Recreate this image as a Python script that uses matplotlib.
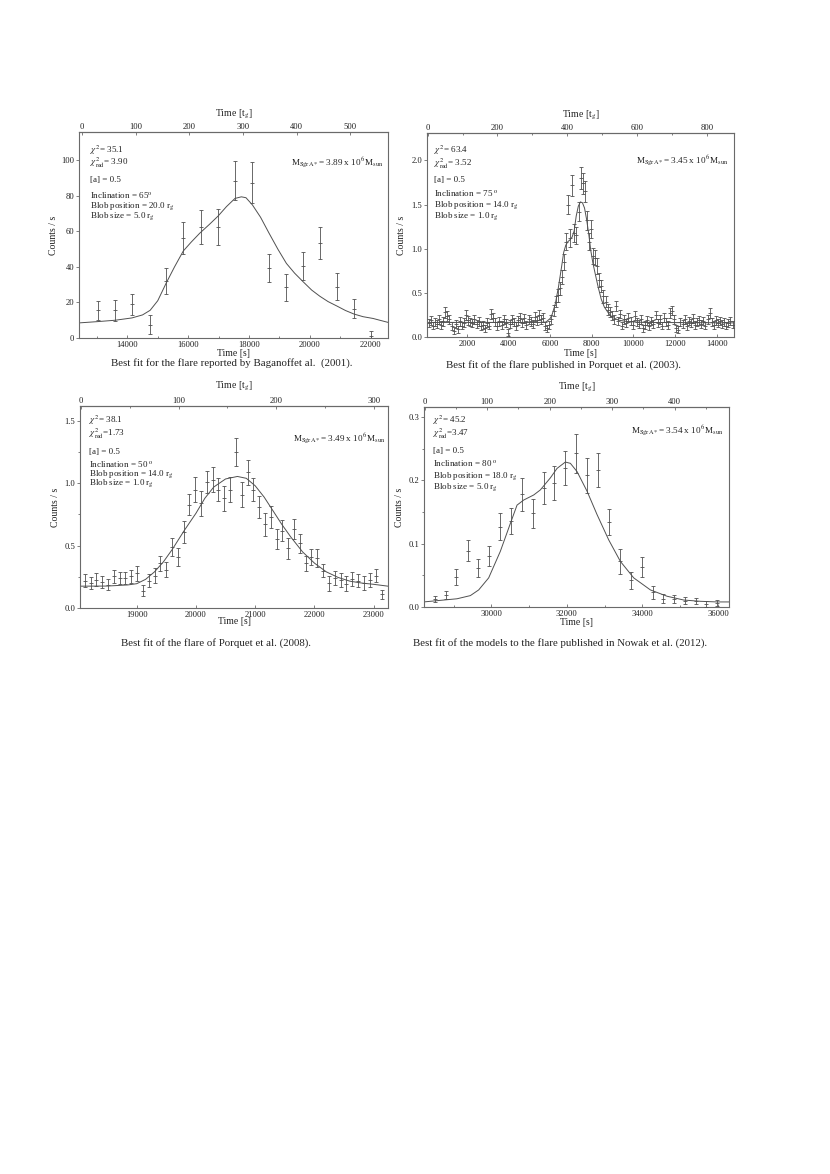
import matplotlib.pyplot as plt
from matplotlib.ticker import MultipleLocator, FormatStrFormatter

plt.rcParams['font.family'] = ['Liberation Serif', 'DejaVu Serif']
plt.rcParams['mathtext.fontset'] = 'stix'

INK = '#222222'
GREY = '#505050'
FRAME = '#6a6a6a'

# ---- Baganoff et al. (2001) ----
t_bag = [13040, 13605, 14150, 14745, 15282, 15841, 16422, 16981, 17540,
         18110, 18658, 19227, 19786, 20334, 20893, 21452, 22022]
rate_bag = [15.5, 15.5, 19.0, 7.5, 32.0, 56.5, 62.5, 62.5, 88.5,
            87.5, 39.5, 28.5, 40.5, 53.5, 29.0, 16.5, 1.0]
err_bag = [5.5, 5.7, 6.0, 5.5, 7.5, 9.0, 9.5, 10.0, 11.0,
           11.5, 8.0, 7.5, 8.0, 9.0, 7.5, 5.5, 3.0]
fit_t_bag = [12411, 13000, 13600, 14150, 14500, 14750, 15000, 15280, 15550,
             15840, 16100, 16380, 16700, 16980, 17260, 17540, 17750, 17900,
             18110, 18380, 18660, 18950, 19230, 19500, 19790, 20060, 20330,
             20600, 20890, 21170, 21450, 21750, 22080, 22300, 22570]
fit_bag = [8.5, 9.2, 10.0, 11.3, 13.0, 15.6, 21.0, 31.0, 40.0,
           49.0, 54.0, 59.0, 64.0, 68.6, 74.0, 78.6, 79.5, 79.0,
           75.0, 68.0, 59.0, 50.0, 42.0, 36.5, 31.5, 27.0, 23.5,
           20.5, 18.0, 15.5, 13.5, 12.0, 11.0, 10.0, 8.8]

# ---- Porquet et al. (2003) ----
t_por03 = [160, 260, 360, 460, 560, 660, 760, 860, 960, 1060,
           1160, 1260, 1360, 1460, 1560, 1660, 1760, 1860, 1960, 2060,
           2160, 2260, 2360, 2460, 2560, 2660, 2760, 2860, 2960, 3060,
           3160, 3260, 3360, 3460, 3560, 3660, 3760, 3860, 3960, 4060,
           4160, 4260, 4360, 4460, 4560, 4660, 4760, 4860, 4960, 5060,
           5160, 5260, 5360, 5460, 5560, 5660, 5760, 5860, 5960, 6060,
           6160, 6260, 6360, 6460, 6560, 6660, 6760, 6860, 6960, 7060,
           7160, 7260, 7360, 7460, 7560, 7660, 7760, 7860, 7960, 8060,
           8160, 8260, 8360, 8460, 8560, 8660, 8760, 8860, 8960, 9060,
           9160, 9260, 9360, 9460, 9560, 9660, 9760, 9860, 9960, 10060,
           10160, 10260, 10360, 10460, 10560, 10660, 10760, 10860, 10960, 11060,
           11160, 11260, 11360, 11460, 11560, 11660, 11760, 11860, 11960, 12060,
           12160, 12260, 12360, 12460, 12560, 12660, 12760, 12860, 12960, 13060,
           13160, 13260, 13360, 13460, 13560, 13660, 13760, 13860, 13960, 14060,
           14160, 14260, 14360, 14460, 14560, 14660, 14760]
rate_por03 = [0.16, 0.19, 0.13, 0.17, 0.15, 0.20, 0.14, 0.18, 0.28, 0.24,
              0.20, 0.12, 0.07, 0.15, 0.09, 0.18, 0.13, 0.16, 0.25, 0.19,
              0.17, 0.16, 0.20, 0.15, 0.18, 0.12, 0.14, 0.10, 0.16, 0.13,
              0.26, 0.22, 0.17, 0.12, 0.18, 0.14, 0.20, 0.16, 0.05, 0.15,
              0.20, 0.17, 0.12, 0.19, 0.22, 0.16, 0.21, 0.14, 0.20, 0.18,
              0.15, 0.23, 0.19, 0.25, 0.20, 0.22, 0.12, 0.10, 0.14, 0.20,
              0.30, 0.40, 0.47, 0.55, 0.68, 0.85, 1.08, 1.50, 1.12, 1.72,
              1.18, 1.15, 1.42, 1.80, 1.74, 1.65, 1.32, 1.08, 1.22, 0.92,
              0.90, 0.80, 0.65, 0.58, 0.46, 0.40, 0.31, 0.28, 0.24, 0.20,
              0.35, 0.18, 0.26, 0.13, 0.20, 0.16, 0.22, 0.18, 0.14, 0.24,
              0.17, 0.15, 0.20, 0.10, 0.14, 0.19, 0.12, 0.18, 0.15, 0.25,
              0.16, 0.20, 0.13, 0.22, 0.17, 0.14, 0.27, 0.30, 0.20, 0.10,
              0.08, 0.17, 0.15, 0.20, 0.12, 0.18, 0.16, 0.21, 0.14, 0.17,
              0.19, 0.15, 0.18, 0.13, 0.20, 0.27, 0.17, 0.14, 0.19, 0.16,
              0.18, 0.15, 0.17, 0.13, 0.16, 0.18, 0.14]
err_por03 = [0.045, 0.05, 0.045, 0.05, 0.045, 0.05, 0.045, 0.05, 0.06, 0.055,
             0.05, 0.045, 0.04, 0.045, 0.04, 0.05, 0.045, 0.05, 0.055, 0.05,
             0.05, 0.045, 0.05, 0.045, 0.05, 0.045, 0.045, 0.04, 0.05, 0.045,
             0.055, 0.05, 0.05, 0.045, 0.05, 0.045, 0.05, 0.045, 0.04, 0.045,
             0.05, 0.05, 0.045, 0.05, 0.05, 0.045, 0.05, 0.045, 0.05, 0.05,
             0.045, 0.05, 0.05, 0.055, 0.05, 0.05, 0.045, 0.04, 0.045, 0.05,
             0.06, 0.065, 0.07, 0.075, 0.08, 0.09, 0.1, 0.11, 0.1, 0.12,
             0.1, 0.1, 0.11, 0.12, 0.12, 0.12, 0.11, 0.1, 0.1, 0.09,
             0.09, 0.09, 0.08, 0.07, 0.07, 0.06, 0.06, 0.055, 0.05, 0.05,
             0.055, 0.045, 0.05, 0.04, 0.05, 0.045, 0.05, 0.045, 0.045, 0.05,
             0.045, 0.045, 0.05, 0.04, 0.045, 0.05, 0.04, 0.045, 0.045, 0.05,
             0.045, 0.05, 0.045, 0.05, 0.045, 0.045, 0.055, 0.055, 0.05, 0.04,
             0.04, 0.045, 0.045, 0.05, 0.04, 0.045, 0.045, 0.05, 0.045, 0.045,
             0.05, 0.045, 0.045, 0.04, 0.05, 0.055, 0.045, 0.045, 0.05, 0.045,
             0.045, 0.045, 0.045, 0.04, 0.045, 0.045, 0.04]
fit_t_por03 = [80, 5500, 5800, 6000, 6100, 6250, 6400, 6550, 6650, 6750,
               6850, 6950, 7050, 7150, 7250, 7350, 7450, 7550, 7650, 7750,
               7850, 7950, 8050, 8150, 8300, 8450, 8600, 8800, 9000, 9300,
               9700, 10500, 14830]
fit_por03 = [0.165, 0.165, 0.17, 0.21, 0.26, 0.38, 0.57, 0.80, 0.96, 1.04,
             1.08, 1.10, 1.13, 1.20, 1.37, 1.48, 1.53, 1.52, 1.46, 1.33,
             1.17, 0.98, 0.84, 0.73, 0.57, 0.43, 0.34, 0.27, 0.22, 0.19,
             0.175, 0.165, 0.16]

# ---- Porquet et al. (2008) ----
t_por08 = [18120, 18220, 18310, 18410, 18510, 18610, 18710, 18810, 18910, 19000,
           19100, 19200, 19300, 19400, 19500, 19590, 19690, 19790, 19890, 19990,
           20090, 20180, 20280, 20380, 20480, 20580, 20680, 20770, 20870, 20970,
           21070, 21170, 21270, 21360, 21460, 21560, 21660, 21760, 21860, 21950,
           22050, 22150, 22250, 22350, 22450, 22540, 22640, 22740, 22840, 22940,
           23040, 23140]
rate_por08 = [0.22, 0.20, 0.227, 0.21, 0.187, 0.253, 0.24, 0.24, 0.253, 0.28,
              0.14, 0.22, 0.26, 0.36, 0.307, 0.49, 0.41, 0.61, 0.83, 0.95,
              0.84, 1.01, 1.03, 0.95, 0.88, 0.95, 1.25, 0.91, 1.09, 0.95,
              0.81, 0.67, 0.73, 0.55, 0.62, 0.48, 0.63, 0.52, 0.36, 0.41,
              0.40, 0.30, 0.20, 0.24, 0.227, 0.195, 0.232, 0.22, 0.20, 0.227,
              0.26, 0.11]
err_por08 = [0.05, 0.05, 0.05, 0.05, 0.045, 0.05, 0.05, 0.05, 0.05, 0.06,
             0.045, 0.05, 0.06, 0.06, 0.06, 0.07, 0.07, 0.085, 0.085, 0.1,
             0.1, 0.09, 0.1, 0.09, 0.1, 0.1, 0.11, 0.1, 0.1, 0.095,
             0.09, 0.09, 0.085, 0.08, 0.085, 0.085, 0.08, 0.075, 0.06, 0.065,
             0.07, 0.055, 0.06, 0.055, 0.055, 0.06, 0.055, 0.05, 0.055, 0.055,
             0.055, 0.035]
fit_t_por08 = [18042, 18500, 18850, 19000, 19150, 19300, 19450, 19600, 19800, 20000,
               20150, 20300, 20500, 20700, 20850, 21000, 21150, 21300, 21450, 21600,
               21800, 22000, 22200, 22400, 22600, 22800, 23000, 23242]
fit_por08 = [0.175, 0.176, 0.185, 0.195, 0.23, 0.29, 0.37, 0.47, 0.62, 0.76,
             0.88, 0.97, 1.035, 1.055, 1.04, 0.98, 0.89, 0.78, 0.67, 0.57,
             0.45, 0.36, 0.29, 0.245, 0.215, 0.2, 0.19, 0.175]

# ---- Nowak et al. (2012) ----
t_now = [28500, 28790, 29070, 29370, 29650, 29940, 30240, 30520, 30800, 31100,
         31390, 31670, 31960, 32250, 32530, 32820, 33120, 33400, 33700, 33980,
         34280, 34550, 34840, 35130, 35410, 35690, 35980]
rate_now = [0.013, 0.019, 0.047, 0.089, 0.062, 0.080, 0.127, 0.136, 0.178, 0.148,
            0.188, 0.196, 0.220, 0.243, 0.208, 0.216, 0.134, 0.072, 0.042, 0.063,
            0.023, 0.013, 0.013, 0.010, 0.009, 0.005, 0.006]
err_now = [0.005, 0.006, 0.013, 0.017, 0.014, 0.016, 0.021, 0.021, 0.026, 0.023,
           0.025, 0.027, 0.027, 0.031, 0.028, 0.027, 0.021, 0.020, 0.014, 0.016,
           0.010, 0.007, 0.006, 0.006, 0.005, 0.005, 0.005]
fit_t_now = [28208, 29091, 29444, 29665, 29929, 30238, 30521, 30680, 30856, 31121,
             31297, 31562, 31739, 31959, 32092, 32268, 32533, 32798, 33107, 33416,
             33769, 34210, 34651, 35093, 35534, 35975, 36290]
fit_now = [0.008, 0.013, 0.018, 0.027, 0.046, 0.088, 0.135, 0.161, 0.169, 0.177,
           0.185, 0.204, 0.219, 0.229, 0.227, 0.214, 0.183, 0.146, 0.106, 0.072,
           0.046, 0.027, 0.017, 0.011, 0.009, 0.008, 0.008]

fig = plt.figure(figsize=(8.3, 11.74), dpi=100)
fig.patch.set_facecolor('white')


def draw_panel(box, t, rate, err, fit_t, fit, p):
    left, top, right, bottom = box
    ax = fig.add_axes([left / 830, 1 - bottom / 1174,
                       (right - left) / 830, (bottom - top) / 1174])
    ax.plot(fit_t, fit, color=GREY, lw=0.7, zorder=2)
    ax.errorbar(t, rate, yerr=err, fmt='_', ms=2.2, mew=0.6, color=GREY,
                ecolor=GREY, elinewidth=0.6, capsize=1.1, capthick=0.6, zorder=3)
    ax.set_xlim(p['xlim'])
    ax.set_ylim(p['ylim'])

    for s in ax.spines.values():
        s.set_color(FRAME)
        s.set_linewidth(0.8)

    # bottom / left ticks
    ax.xaxis.set_major_locator(MultipleLocator(p['xstep']))
    if p['xminor']:
        ax.xaxis.set_minor_locator(MultipleLocator(p['xminor']))
    ax.yaxis.set_major_locator(MultipleLocator(p['ystep']))
    if p['yminor']:
        ax.yaxis.set_minor_locator(MultipleLocator(p['yminor']))
    ax.yaxis.set_major_formatter(FormatStrFormatter(p['yfmt']))
    ax.tick_params(axis='x', which='both', direction='in', top=False, color=FRAME,
                   labelsize=6.2, labelcolor=INK, pad=2.5, width=0.6)
    ax.tick_params(axis='y', which='both', direction='out', right=False, color=FRAME,
                   labelsize=6.2, labelcolor=INK, pad=1, width=0.6)
    ax.tick_params(which='major', length=2.5)
    ax.tick_params(which='minor', length=1.5)

    ax.set_xlabel('Time [s]', fontsize=7, color=INK)
    ax.xaxis.set_label_coords(0.5, p['xlab_y'])
    ax.xaxis.label.set_va('center')
    ax.set_ylabel('Counts / s', fontsize=7, color=INK)
    ax.yaxis.set_label_coords(p['ylab_x'], 0.5)
    ax.yaxis.label.set_va('center')

    # top axis in gravitational time units
    t0, tg = p['tg']
    sec = ax.secondary_xaxis('top', functions=(lambda x: (x - t0) / tg,
                                               lambda g: g * tg + t0))
    sec.xaxis.set_major_locator(MultipleLocator(p['gstep']))
    if p['gminor']:
        sec.xaxis.set_minor_locator(MultipleLocator(p['gminor']))
    sec.tick_params(which='both', direction='in', color=FRAME, labelsize=6.2,
                    labelcolor=INK, pad=0.8, width=0.6)
    sec.tick_params(which='major', length=2.5)
    sec.tick_params(which='minor', length=1.5)
    sec.spines['top'].set_color(FRAME)
    sec.spines['top'].set_linewidth(0.8)
    sec.set_xlabel(r'Time [t$_{\rm g}$]', fontsize=7, color=INK)
    sec.xaxis.set_label_coords(0.5, p['glab_y'], transform=ax.transAxes)
    sec.xaxis.label.set_va('center')

    # fit parameters
    for line, y in zip(p['lines'], p['line_y']):
        ax.text(p['line_x'], y, line, transform=ax.transAxes, fontsize=6.5,
                color=INK, ha='left', va='center')
    ax.text(p['mass_xy'][0], p['mass_xy'][1], p['mass'], transform=ax.transAxes,
            fontsize=6.6, color=INK, ha='right', va='center')

    fig.text(p['cap_xy'][0] / 830, 1 - p['cap_xy'][1] / 1174, p['caption'],
             fontsize=7.8, color=INK, ha='center', va='center')
    return ax


panel_bag = dict(
    xlim=(12411, 22570), ylim=(0, 116), xstep=2000, xminor=1000,
    ystep=20, yminor=None, yfmt='%d', tg=(12510, 17.64), gstep=100, gminor=None,
    xlab_y=-0.075, ylab_x=-0.084, glab_y=1.083,
    lines=[r'$\chi^2$= 35.1', r'$\chi^2_{\rm red}$= 3.90', '[a] = 0.5',
           r'Inclination = 65$^{\rm o}$', r'Blob position = 20.0 r$_{\rm g}$',
           r'Blob size = 5.0 r$_{\rm g}$'],
    line_x=0.036, line_y=[0.909, 0.848, 0.767, 0.691, 0.641, 0.592],
    mass=r'M$_{\rm SgrA*}$= 3.89 x 10$^{\,6}$M$_{\rm sun}$', mass_xy=(0.984, 0.856),
    caption='Best fit for the flare reported by Baganoffet al.  (2001).',
    cap_xy=(232, 363),
)
panel_por03 = dict(
    xlim=(80, 14832), ylim=(0, 2.31), xstep=2000, xminor=None,
    ystep=0.5, yminor=None, yfmt='%.1f', tg=(112, 16.77), gstep=200, gminor=100,
    xlab_y=-0.080, ylab_x=-0.082, glab_y=1.088,
    lines=[r'$\chi^2$= 63.4', r'$\chi^2_{\rm red}$= 3.52', '[a] = 0.5',
           r'Inclination = 75 $^{\rm o}$', r'Blob position = 14.0 r$_{\rm g}$',
           r'Blob size = 1.0 r$_{\rm g}$'],
    line_x=0.024, line_y=[0.913, 0.851, 0.770, 0.701, 0.647, 0.595],
    mass=r'M$_{\rm SgrA*}$= 3.45 x 10$^{\,6}$M$_{\rm sun}$', mass_xy=(0.98, 0.868),
    caption='Best fit of the flare published in Porquet et al. (2003).',
    cap_xy=(563, 365),
)
panel_por08 = dict(
    xlim=(18042, 23242), ylim=(0, 1.62), xstep=1000, xminor=None,
    ystep=0.5, yminor=0.25, yfmt='%.1f', tg=(18059, 16.47), gstep=100, gminor=50,
    xlab_y=-0.068, ylab_x=-0.081, glab_y=1.096,
    lines=[r'$\chi^2$= 38.1', r'$\chi^2_{\rm red}$=1.73', '[a] = 0.5',
           r'Inclination = 50 $^{\rm o}$', r'Blob position = 14.0 r$_{\rm g}$',
           r'Blob size = 1.0 r$_{\rm g}$'],
    line_x=0.029, line_y=[0.927, 0.860, 0.774, 0.711, 0.663, 0.617],
    mass=r'M$_{\rm SgrA*}$= 3.49 x 10$^{\,6}$M$_{\rm sun}$', mass_xy=(0.99, 0.84),
    caption='Best fit of the flare of Porquet et al. (2008).',
    cap_xy=(216, 643),
)
panel_now = dict(
    xlim=(28217, 36291), ylim=(0, 0.316), xstep=2000, xminor=1000,
    ystep=0.1, yminor=0.05, yfmt='%.1f', tg=(28235, 16.55), gstep=100, gminor=50,
    xlab_y=-0.077, ylab_x=-0.079, glab_y=1.097,
    lines=[r'$\chi^2$= 45.2', r'$\chi^2_{\rm red}$=3.47', '[a] = 0.5',
           r'Inclination = 80 $^{\rm o}$', r'Blob position = 18.0 r$_{\rm g}$',
           r'Blob size = 5.0 r$_{\rm g}$'],
    line_x=0.031, line_y=[0.932, 0.864, 0.78, 0.714, 0.657, 0.602],
    mass=r'M$_{\rm SgrA*}$= 3.54 x 10$^{\,6}$M$_{\rm sun}$', mass_xy=(0.982, 0.885),
    caption='Best fit of the models to the flare published in Nowak et al. (2012).',
    cap_xy=(560, 643),
)

draw_panel((79, 132, 388, 338), t_bag, rate_bag, err_bag, fit_t_bag, fit_bag, panel_bag)
draw_panel((427, 133, 734, 337), t_por03, rate_por03, err_por03, fit_t_por03, fit_por03, panel_por03)
draw_panel((80, 406, 388, 608), t_por08, rate_por08, err_por08, fit_t_por08, fit_por08, panel_por08)
draw_panel((424, 407, 729, 607), t_now, rate_now, err_now, fit_t_now, fit_now, panel_now)

fig.savefig('out.png', dpi=100, facecolor='white')
